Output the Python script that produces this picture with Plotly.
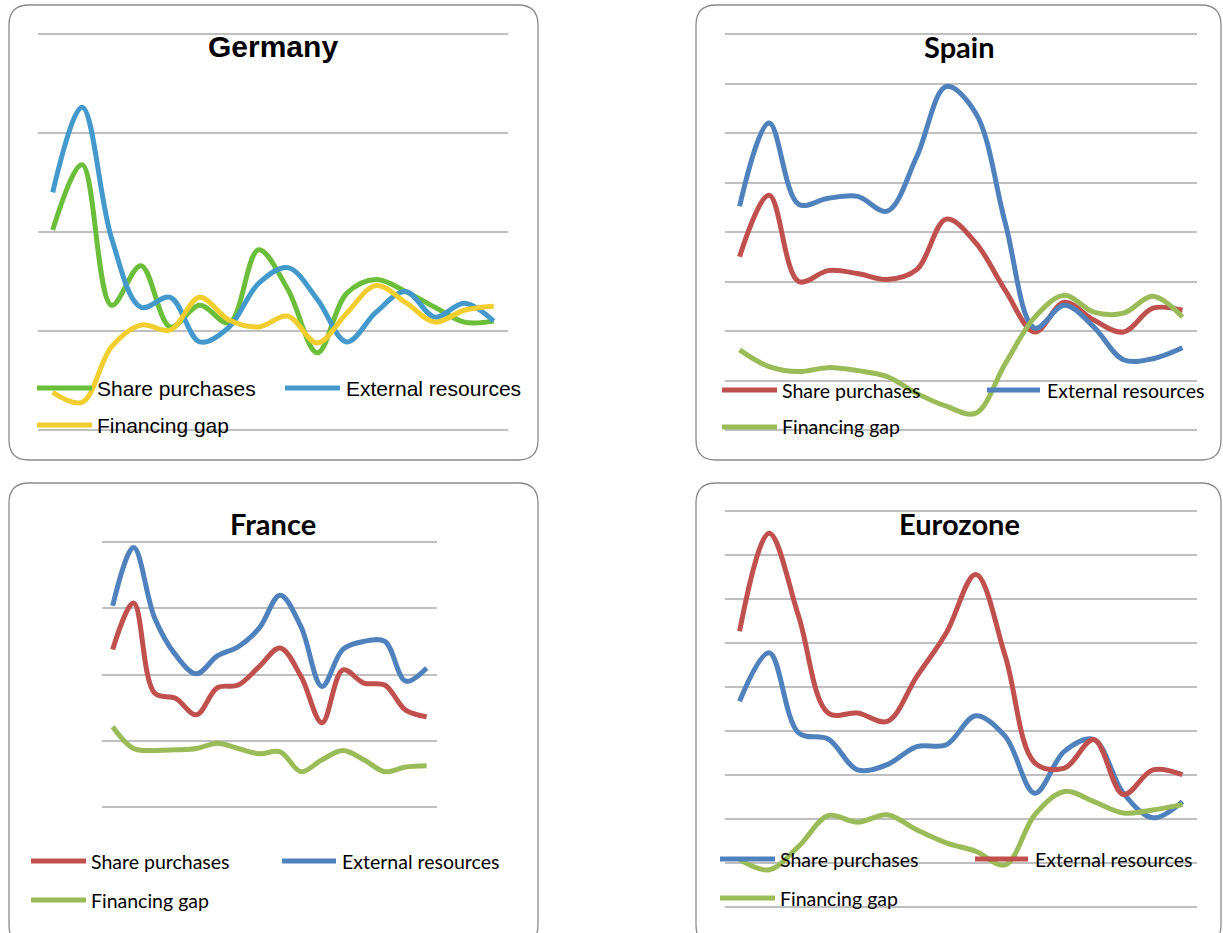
import plotly.graph_objects as go

W, H = 1223, 933

# sixteen observation periods per country (category axis, labels hidden)
periods = list(range(1, 17))

series_names = ["Share purchases", "External resources", "Financing gap"]

# Germany (% of GDP)
germany_share = [5.1, 8.4, 1.3, 3.3, 0.2, 1.3, 0.4, 4.1, 2.1, -1.1, 1.9, 2.6, 2.0, 1.2, 0.45, 0.5]
germany_external = [7.0, 11.3, 4.7, 1.2, 1.7, -0.55, 0.2, 2.4, 3.2, 1.6, -0.55, 0.95, 2.0, 0.7, 1.4, 0.5]
germany_gap = [-3.1, -3.6, -0.8, 0.3, 0.05, 1.7, 0.55, 0.2, 0.75, -0.6, 0.9, 2.3, 1.45, 0.45, 1.05, 1.25]

# Spain
spain_share = [7.5, 13.7, 5.0, 6.1, 5.8, 5.2, 6.2, 11.3, 8.9, 4.1, -0.1, 2.9, 1.1, -0.1, 2.3, 2.1]
spain_external = [12.6, 21.0, 12.8, 13.4, 13.6, 12.1, 17.6, 24.7, 22.0, 10.9, 0.3, 2.6, 0.4, -2.9, -2.8, -1.7]
spain_gap = [-1.9, -3.6, -4.1, -3.7, -4.0, -4.6, -6.3, -7.6, -8.3, -3.3, 1.4, 3.6, 1.9, 1.8, 3.5, 1.4]

# France
france_share = [6.9, 10.4, 3.6, 3.2, 1.95, 4.0, 4.2, 5.6, 7.0, 4.85, 1.35, 5.35, 4.35, 4.2, 2.3, 1.8]
france_external = [10.2, 14.6, 9.3, 6.5, 5.05, 6.4, 7.1, 8.5, 11.0, 8.6, 4.1, 6.9, 7.5, 7.5, 4.5, 5.5]
france_gap = [1.05, -0.6, -0.75, -0.7, -0.6, -0.2, -0.6, -1.0, -0.85, -2.35, -1.45, -0.75, -1.45, -2.35, -2.0, -1.9]

# Eurozone
euro_share = [2.67, 3.77, 1.95, 1.81, 1.11, 1.23, 1.64, 1.68, 2.34, 1.87, 0.58, 1.53, 1.8, 0.58, 0.02, 0.39]
euro_external = [4.26, 6.49, 4.6, 2.4, 2.4, 2.21, 3.23, 4.22, 5.55, 3.69, 1.27, 1.15, 1.8, 0.55, 1.11, 1.0]
euro_gap = [-0.93, -1.16, -0.63, 0.07, -0.08, 0.09, -0.25, -0.55, -0.74, -1.05, 0.09, 0.62, 0.39, 0.13, 0.2, 0.32]

GER_GREEN, GER_BLUE, GER_YELLOW = "#6BBE3A", "#4399CC", "#F2CD2E"
RED, BLUE, GREEN = "#C0504D", "#4F81BD", "#9BBB59"


def px(x):
    return x / W


def py(y):
    return 1 - y / H


panels = [
    dict(title="Germany", font="Liberation Sans", title_size=30, legend_size=21,
         box=(9, 5, 538, 460), plot=(38, 34, 508.4, 430), yrange=(-5, 15), dtick=5,
         title_xy=(273, 46),
         series=[(germany_share, GER_GREEN), (germany_external, GER_BLUE), (germany_gap, GER_YELLOW)],
         legend=[(37, 92, 95, 388), (285, 340, 344, 388), (37, 92, 95, 425)]),
    dict(title="Spain", font="Lato", title_size=29, legend_size=19.5,
         box=(696, 5, 1221, 460), plot=(724.8, 34, 1197.2, 430), yrange=(-10, 30), dtick=5,
         title_xy=(959, 46),
         series=[(spain_share, RED), (spain_external, BLUE), (spain_gap, GREEN)],
         legend=[(722, 777, 780, 390), (987, 1040, 1045, 390), (722, 777, 780, 427)]),
    dict(title="France", font="Lato", title_size=29, legend_size=19.5,
         box=(9, 483, 538, 945), plot=(102.2, 542.3, 437.1, 806.7), yrange=(-5, 15), dtick=5,
         title_xy=(273, 523),
         series=[(france_share, RED), (france_external, BLUE), (france_gap, GREEN)],
         legend=[(31, 86, 89, 861), (282, 336, 340, 861), (31, 86, 89, 900)]),
    dict(title="Eurozone", font="Lato", title_size=29, legend_size=19.5,
         box=(696, 483, 1221, 945), plot=(724.8, 510.7, 1197.2, 906.7), yrange=(-2, 7), dtick=1,
         title_xy=(959, 523),
         series=[(euro_share, BLUE), (euro_external, RED), (euro_gap, GREEN)],
         legend=[(720, 775, 778, 859), (975, 1028, 1033, 859), (720, 775, 778, 898)]),
]


def rounded_rect(x0, y0, x1, y1, r):
    pts = [
        f"M {px(x0 + r)},{py(y0)}",
        f"L {px(x1 - r)},{py(y0)}",
        f"Q {px(x1)},{py(y0)} {px(x1)},{py(y0 + r)}",
        f"L {px(x1)},{py(y1 - r)}",
        f"Q {px(x1)},{py(y1)} {px(x1 - r)},{py(y1)}",
        f"L {px(x0 + r)},{py(y1)}",
        f"Q {px(x0)},{py(y1)} {px(x0)},{py(y1 - r)}",
        f"L {px(x0)},{py(y0 + r)}",
        f"Q {px(x0)},{py(y0)} {px(x0 + r)},{py(y0)}",
        "Z",
    ]
    return " ".join(pts)


fig = go.Figure()
shapes = []
annotations = []
layout_axes = {}
PAD = 6  # extra pixels so the outermost gridlines sit inside the axis box

for k, p in enumerate(panels, start=1):
    sfx = "" if k == 1 else str(k)
    xa, ya = "x" + sfx, "y" + sfx

    for (vals, color), name in zip(p["series"], series_names):
        fig.add_trace(go.Scatter(
            x=periods, y=vals, name=name, mode="lines",
            line=dict(color=color, width=5, shape="spline", smoothing=1.0),
            xaxis=xa, yaxis=ya, hoverinfo="skip", showlegend=False,
        ))

    x0, y0, x1, y1 = p["plot"]
    lo, hi = p["yrange"]
    per_px = (hi - lo) / (y1 - y0)
    ticks = [lo + i * p["dtick"] for i in range(int(round((hi - lo) / p["dtick"])) + 1)]
    layout_axes["xaxis" + sfx] = dict(
        domain=[px(x0), px(x1)], range=[0.5, 16.5], anchor=ya,
        showgrid=False, zeroline=False, showticklabels=False, showline=False, ticks="",
    )
    layout_axes["yaxis" + sfx] = dict(
        domain=[py(y1 + PAD), py(y0 - PAD)],
        range=[lo - PAD * per_px, hi + PAD * per_px], anchor=xa,
        tickvals=ticks, showticklabels=False, ticks="",
        showgrid=True, gridcolor="#BFBFBF", gridwidth=1.6,
        zeroline=False, showline=False,
    )

    # rounded chart-area frame
    shapes.append(dict(type="path", xref="paper", yref="paper",
                       path=rounded_rect(*p["box"], 20),
                       line=dict(color="#8A8A8A", width=1.3), layer="below"))

    # title
    tx, ty = p["title_xy"]
    annotations.append(dict(
        text=f"<b>{p['title']}</b>", x=px(tx), y=py(ty), xref="paper", yref="paper",
        xanchor="center", yanchor="middle", showarrow=False,
        font=dict(family=p["font"], size=p["title_size"], color="#000000"),
    ))

    # legend entries
    for (lx0, lx1, tx0, ly), (vals, color), name in zip(p["legend"], p["series"], series_names):
        shapes.append(dict(type="line", xref="paper", yref="paper",
                           x0=px(lx0), x1=px(lx1), y0=py(ly), y1=py(ly),
                           line=dict(color=color, width=5), layer="above"))
        annotations.append(dict(
            text=name, x=px(tx0), y=py(ly), xref="paper", yref="paper",
            xanchor="left", yanchor="middle", showarrow=False,
            font=dict(family=p["font"], size=p["legend_size"], color="#000000"),
        ))

fig.update_layout(
    width=W, height=H, margin=dict(l=0, r=0, t=0, b=0),
    paper_bgcolor="white", plot_bgcolor="rgba(0,0,0,0)",
    showlegend=False, shapes=shapes, annotations=annotations,
    **layout_axes,
)

fig.write_html("out.html")
